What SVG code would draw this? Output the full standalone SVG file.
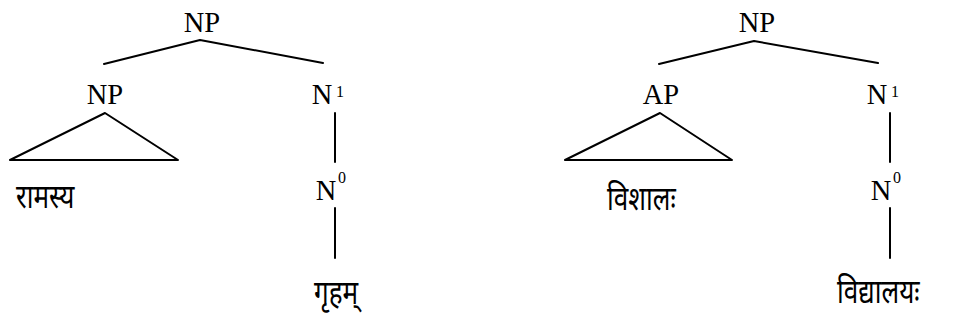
<svg xmlns="http://www.w3.org/2000/svg" width="957" height="323" viewBox="0 0 957 323">
<style>
.lbl{font-family:"Liberation Serif","Times New Roman",serif;font-size:28.5px;fill:#000;text-anchor:middle}
.sup{font-family:"Liberation Serif","Times New Roman",serif;font-size:16px;fill:#000}
.dev{font-family:"Noto Sans Devanagari","Noto Serif Devanagari","Lohit Devanagari","FreeSans",sans-serif;font-size:29px;fill:#000}
.ln{stroke:#000;stroke-width:2;fill:none;stroke-linecap:round;stroke-linejoin:round}
</style>
<rect width="957" height="323" fill="#fff"/>
<g id="connectors">
<polyline class="ln" points="104,64 200,40 323,63"/>
<line class="ln" x1="335" y1="113" x2="335" y2="162"/>
<line class="ln" x1="335" y1="208" x2="335" y2="258"/>
<polyline class="ln" points="659,64 754,41 878,63"/>
<line class="ln" x1="890" y1="113" x2="890" y2="162"/>
<line class="ln" x1="890" y1="208" x2="890" y2="258"/>
</g>
<g id="np-top-left"><text class="lbl" x="202" y="32">NP</text></g>
<g id="np-left"><text class="lbl" x="105" y="104">NP</text></g>
<g id="tri-left"><polygon class="ln" points="105,113 10,160 178,160"/></g>
<g id="ramasya"><text class="dev" transform="translate(16,208) scale(0.9,1.18)">रामस्य</text></g>
<g id="n1-left"><text class="lbl" x="322" y="104">N</text><text class="sup" x="336" y="97">1</text></g>
<g id="n0-left"><text class="lbl" x="326" y="200">N</text><text class="sup" x="338" y="183">0</text></g>
<g id="grham"><text class="dev" transform="translate(314,304) scale(0.9,1.18)">गृहम्</text></g>
<g id="np-top-right"><text class="lbl" x="757" y="32">NP</text></g>
<g id="ap-right"><text class="lbl" x="661" y="104">AP</text></g>
<g id="tri-right"><polygon class="ln" points="660,113 565,160 732,160"/></g>
<g id="vishalah"><text class="dev" transform="translate(607,210) scale(0.9,1.18)">विशालः</text></g>
<g id="n1-right"><text class="lbl" x="877" y="104">N</text><text class="sup" x="891" y="97">1</text></g>
<g id="n0-right"><text class="lbl" x="881" y="200">N</text><text class="sup" x="893" y="183">0</text></g>
<g id="vidyalayah"><text class="dev" transform="translate(837,303) scale(0.9,1.18)">विद्यालयः</text></g>
</svg>
